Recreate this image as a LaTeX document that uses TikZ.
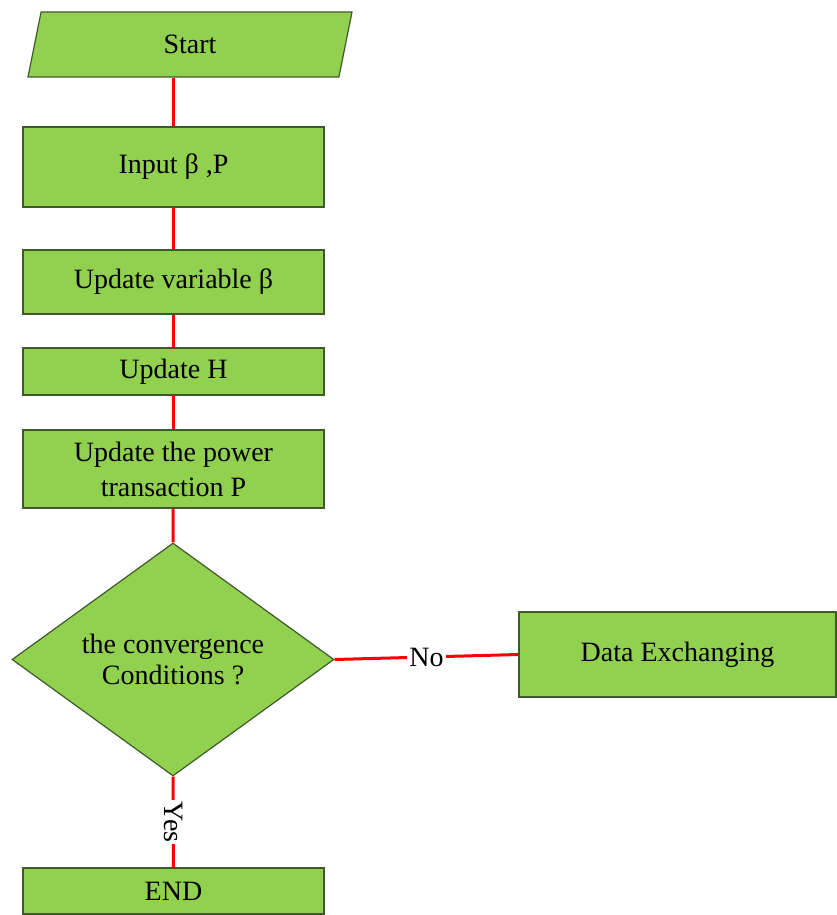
\documentclass[tikz,border=0pt]{standalone}
\usepackage{fontspec}
\setmainfont{Liberation Serif}
\usepackage{xcolor}
\usepackage{tikz}
\usetikzlibrary{shapes.geometric,positioning}
\definecolor{boxfill}{HTML}{92D050}
\definecolor{boxline}{HTML}{3F5A2A}
\tikzset{
  procbox/.style={draw=boxline,line width=0.6pt,fill=boxfill,rectangle,
    minimum width=150.5pt,align=center,inner sep=2pt},
  iobox/.style={draw=boxline,line width=0.6pt,fill=boxfill,trapezium,
    trapezium left angle=64,trapezium right angle=116,trapezium stretches body,
    minimum width=162pt,minimum height=32.5pt,inner sep=2pt},
  decision/.style={draw=boxline,line width=0.6pt,fill=boxfill,diamond,
    minimum width=161pt,minimum height=116.5pt,inner sep=0pt,align=center,
    font=\fontsize{14}{15.5}\selectfont},
  link/.style={red,line width=1.5pt},
  tag/.style={fill=white,text=black,inner sep=1pt}
}

\begin{document}
\begin{tikzpicture}[x=0.5pt,y=-0.5pt,font=\fontsize{14}{17.5}\selectfont]
  \useasboundingbox (0,0) rectangle (836,915);

  % Start
  \node[iobox] (start) at (190,44.5) {Start};

  % Steps
  \node[procbox,minimum height=40pt] (input) at (173.5,167) {Input β ,P};
  \node[procbox,minimum height=32pt] (varb) at (173.5,282) {Update variable β};
  \node[procbox,minimum height=23.5pt] (updh) at (173.5,371.5) {Update H};
  \node[procbox,minimum height=39pt] (power) at (173.5,469) {Update the power\\transaction P};

  % Test
  \node[decision] (cond) at (173,659.5) {the convergence\\Conditions ?};

  % Exchange and end
  \node[procbox,minimum width=158.5pt,minimum height=42.5pt] (data) at (677.5,654.5) {Data Exchanging};
  \node[procbox,minimum height=23pt] (endn) at (173.5,891) {END};

  % Edges
  \coordinate (startb) at (input.north |- start.south);
  \draw[link] (startb) -- (input.north);
  \draw[link] (input) -- (varb);
  \draw[link] (varb) -- (updh);
  \draw[link] (updh) -- (power);
  \draw[link] (power) -- (cond.north);
  \draw[link] (cond.east) -- (data.west) node[midway,tag] {No};
  \draw[link] (cond.south) -- (endn.north) node[midway,tag,rotate=-90] {Yes};
\end{tikzpicture}
\end{document}
